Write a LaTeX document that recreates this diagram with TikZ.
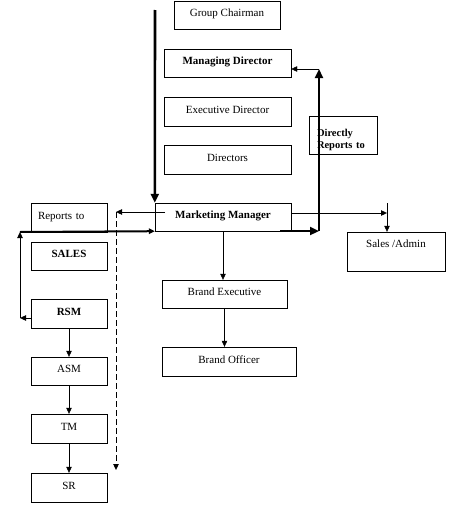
\documentclass[tikz,border=0pt]{standalone}
\usepackage{fontspec}
\setmainfont{Liberation Serif}
\usetikzlibrary{arrows.meta}
\usetikzlibrary{positioning}

\tikzset{
  box/.style={draw,rectangle,inner sep=0pt,text depth=4pt,font=\fontsize{11}{13}\selectfont},
  heavy/.style={line width=2.6pt,-{Triangle[length=9pt,width=8pt]}},
}

\begin{document}
\begin{tikzpicture}[x=1pt,y=-1pt,>={Triangle[length=6pt,width=5.5pt]}]
\useasboundingbox (0,0) rectangle (448,506);
%Top chain of boxes

    \node[box,minimum width=106,minimum height=28] (gc) at (227,15) {Group Chairman};
    \node[box,minimum width=127,minimum height=28] (md) at (227.5,63) {\textbf{Managing Director}};
    \node[box,minimum width=127,minimum height=29] (ed) at (227.5,111.5) {Executive Director};
    \node[box,minimum width=127,minimum height=29] (dir) at (227.5,159.5) {Directors};
    \node[box,minimum width=68,minimum height=38,align=left,text width=52,inner xsep=8pt,font=\fontsize{10.5}{12}\selectfont] (drt) at (343,135) {\textbf{Directly}\\\textbf{Reports to}};
    \node[box,minimum width=136,minimum height=28] (mm) at (223,217) {\textbf{Marketing Manager}};
    \node[box,minimum width=98,minimum height=39,text depth=15pt] (sadm) at (396,251.5) {Sales /Admin};
    \node[box,minimum width=125,minimum height=28] (be) at (224.5,294) {Brand Executive};
    \node[box,minimum width=134,minimum height=29] (bo) at (229,361.5) {Brand Officer};

%Sales column
    \node[box,minimum width=76,minimum height=29,align=left,text width=62,inner xsep=7pt] (rto) at (69,217.5) {Reports to};
    \node[box,minimum width=76,minimum height=28] (sales) at (69,256) {\textbf{SALES}};
    \node[box,minimum width=76,minimum height=29] (rsm) at (69,313.5) {\textbf{RSM}};
    \node[box,minimum width=76,minimum height=28] (asm) at (69,371) {ASM};
    \node[box,minimum width=76,minimum height=29] (tm) at (69,428.5) {TM};
    \node[box,minimum width=76,minimum height=29] (sr) at (69,487.5) {SR};

%Free ends
    \coordinate (top) at (155,10);
    \coordinate (mmout) at (280,231);
    \coordinate (rbend) at (319,231);
    \coordinate (rtop) at (319,69);
    \coordinate (sright) at (387,213);
    \coordinate (sdown) at (387,203);
    \coordinate (dstart) at (165,212);
    \coordinate (dtop) at (116,212);
    \coordinate (dend) at (116,470);
    \coordinate (lbot) at (20,318);
    \coordinate (ltop) at (20,232);

    \draw [heavy] (top) -- (mm.north west);
    \draw [heavy] (mmout) -- (rbend);
    \draw [heavy] (rbend) -- (rtop);
    \draw [->] (rtop) -- (md.east |- rtop);
    \draw [->] (mm.east |- sright) -- (sright);
    \draw [->] (sdown) -- (sdown |- sadm.north);
    \draw [->] (dstart) -- (dtop);
    \draw [->,dash pattern=on 6pt off 3pt] (dtop) -- (dend);
    \draw [->] (rsm.west |- lbot) -- (lbot);
    \draw [->] (lbot) -- (ltop);
    \draw [heavy,-{Triangle[length=6pt,width=5.5pt]},line width=2pt] (ltop) -- (mm.south west);
    \draw [->] (mm.south) -- (mm.south |- be.north);
    \draw [->] (be.south) -- (be.south |- bo.north);
    \draw [->] (rsm) -- (asm);
    \draw [->] (asm) -- (tm);
    \draw [->] (tm) -- (sr);
\end{tikzpicture}
\end{document}
